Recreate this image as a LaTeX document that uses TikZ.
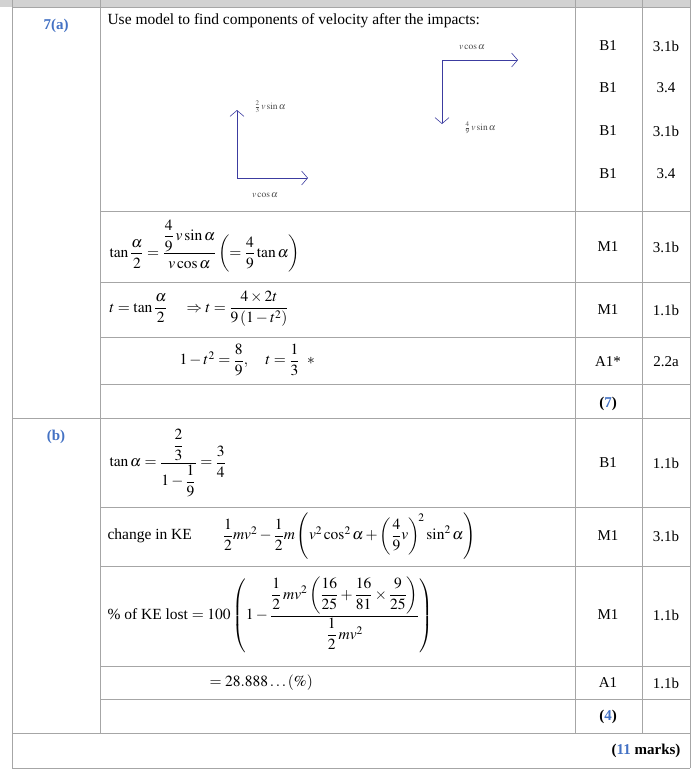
\documentclass[tikz,border=0pt]{standalone}
\usepackage{amsmath}
\usepackage{mathptmx}
\usepackage{fontspec}
\setmainfont{Liberation Serif}
\usetikzlibrary{arrows.meta}
\definecolor{qblue}{RGB}{68,114,196}
\definecolor{vecblue}{RGB}{60,60,160}
\tikzset{
  rule/.style={draw=gray!70, line width=0.8pt},
  markcell/.style={font=\fontsize{15}{17}\selectfont, anchor=center},
  qlabel/.style={font=\bfseries\fontsize{15}{17}\selectfont, text=qblue},
  work/.style={font=\fontsize{15.5}{17}\selectfont, anchor=west},
  vec/.style={draw=vecblue, line width=0.6pt, -{Straight Barb[length=6pt,width=14pt]}},
  small/.style={font=\fontsize{9.5}{10}\selectfont, text=black!70}
}
\begin{document}
\begin{tikzpicture}[x=1pt,y=-1pt]
\useasboundingbox (0,0) rectangle (691,774);
% grid
\fill[gray!35] (0,0) rectangle (691,7);
\draw[rule] (12,0) -- (12,768) (100,0) -- (100,733) (575,0) -- (575,733) (642,0) -- (642,733) (690,0) -- (690,768);
\draw[rule] (12,7) -- (690,7);
\foreach \y in {211,282,337,384,507,566,666,699}
  \draw[rule] (100,\y) -- (690,\y);
\foreach \y in {418,733,768}
  \draw[rule] (12,\y) -- (690,\y);
% question labels
\node[qlabel] (qa) at (56,26) {7(a)};
\node[qlabel] (qb) at (56,437) {(b)};
% part (a)
\node[work] (intro) at (104,21) {Use model to find components of velocity after the impacts:};
\coordinate (c1) at (237,178);
\coordinate (c1up) at (237,110);
\coordinate (c1rt) at (308,178);
\draw[vec] (c1) -- (c1up);
\draw[vec] (c1) -- (c1rt);
\node[small] (s1) at (270,107) {$\frac{2}{3}\,v\sin\alpha$};
\node[small] (s2) at (265,195) {$v\cos\alpha$};
\coordinate (c2) at (442,60);
\coordinate (c2rt) at (518,60);
\coordinate (c2dn) at (442,124);
\draw[vec] (c2) -- (c2rt);
\draw[vec] (c2) -- (c2dn);
\node[small] (s3) at (472,47) {$v\cos\alpha$};
\node[small] (s4) at (480,128) {$\frac{4}{9}\,v\sin\alpha$};
\node[work] (wa1) at (106,246) {$\tan\dfrac{\alpha}{2}=\dfrac{\dfrac{4}{9}\,v\sin\alpha}{v\cos\alpha}\left(=\dfrac{4}{9}\tan\alpha\right)$};
\node[work] (wa2) at (106,309) {$t=\tan\dfrac{\alpha}{2}\quad\Rightarrow t=\dfrac{4\times 2t}{9\left(1-t^2\right)}$};
\node[work] (wa3) at (176,360) {$1-t^2=\dfrac{8}{9},\quad t=\dfrac{1}{3}\ \ *$};
% part (b)
\node[work] (wb1) at (106,463) {$\tan\alpha=\dfrac{\dfrac{2}{3}}{1-\dfrac{1}{9}}=\dfrac{3}{4}$};
\node[work] (wb2) at (104,536) {change in KE\qquad $\dfrac{1}{2}mv^2-\dfrac{1}{2}m\left(v^2\cos^2\alpha+\left(\dfrac{4}{9}v\right)^{\!2}\sin^2\alpha\right)$};
\node[work] (wb3) at (104,615) {\% of KE lost $=100\left(1-\dfrac{\dfrac{1}{2}\,mv^2\left(\dfrac{16}{25}+\dfrac{16}{81}\times\dfrac{9}{25}\right)}{\dfrac{1}{2}\,mv^2}\right)$};
\node[work] (wb4) at (206,683) {$=28.888\ldots(\%)$};
% marks
\foreach \y/\m/\ao in {46/B1/3.1b, 88/B1/3.4, 131/B1/3.1b, 174/B1/3.4, 247/M1/3.1b, 310/M1/1.1b, 362/A1*/2.2a, 463/B1/1.1b, 536/M1/3.1b, 615/M1/1.1b, 683/A1/1.1b}
{
  \node[markcell] at (608,\y) {\m};
  \node[markcell] at (666,\y) {\ao};
}
\node[markcell, font=\bfseries\fontsize{15}{17}\selectfont] (t7) at (608,404) {(\textcolor{qblue}{7})};
\node[markcell, font=\bfseries\fontsize{15}{17}\selectfont] (t4) at (608,717) {(\textcolor{qblue}{4})};
\node[markcell, font=\bfseries\fontsize{15}{17}\selectfont, anchor=east] (tot) at (684,751) {(\textcolor{qblue}{11} marks)};
\end{tikzpicture}
\end{document}
